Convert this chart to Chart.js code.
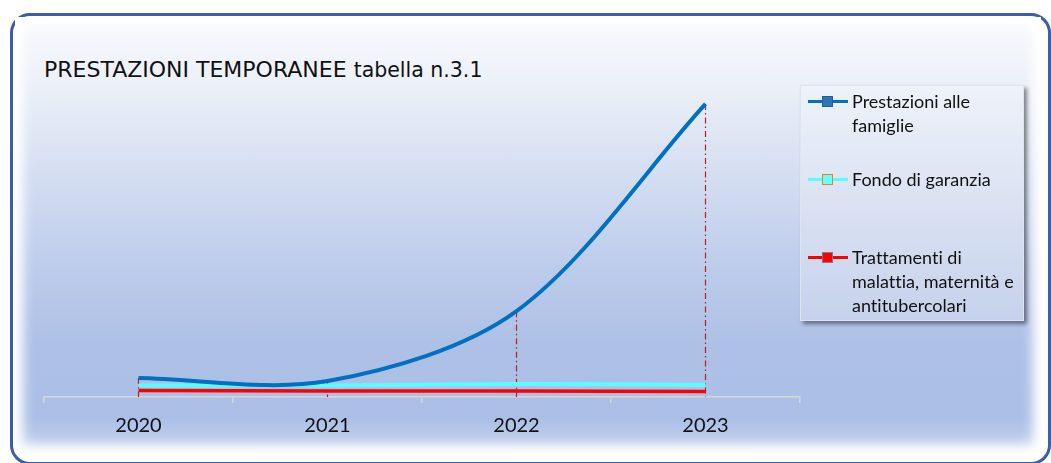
<!DOCTYPE html>
<html lang="it">
<head>
<meta charset="UTF-8">
<title>Prestazioni temporanee</title>
<script src="https://cdn.jsdelivr.net/npm/chart.js"></script>
<style>
    body { margin: 0; background: #fff; width: 1051px; height: 463px; overflow: hidden; position: relative; }
    #cornice {
        position: absolute; left: 10px; top: 13px; width: 1041px; height: 452px;
        box-sizing: border-box; border: 3px solid #3a5ea8; border-radius: 20px;
    }
    #sfondo {
        position: absolute; left: 15px; top: 17px; width: 1026px; height: 436px;
        background: linear-gradient(to bottom, #f9fafd 0%, #edf1f8 14%, #d8e1f2 33%, #c0ceec 55%, #aec0e6 75%, #abbfe6 92%, #c9d5ef 100%);
        box-shadow: inset 0 0 12px 8px #fff;
    }
    #titolo {
        position: absolute; left: 44px; top: 58px; font-family: "DejaVu Sans", Verdana, sans-serif;
        font-size: 22px; line-height: 24px; color: #111; white-space: nowrap;
    }
    #titolo span { font-size: 20.5px; }
    #legenda {
        position: absolute; left: 800px; top: 85px; width: 224px; height: 236px; box-sizing: border-box;
        background: linear-gradient(to bottom, #eef2f9, #c6d2ec);
        border: 1px solid #dfe5f0; box-shadow: 3px 3px 4px rgba(0,0,0,0.45);
        font-family: Lato, "Open Sans", sans-serif; font-size: 18px; color: #111;
        font-variant-ligatures: none; font-feature-settings: "liga" 0;
    }
    .voce { position: absolute; left: 0; width: 222px; }
    .voce .campione { position: absolute; left: 7px; top: 11px; width: 40px; height: 3px; }
    .voce .marca { position: absolute; left: 14px; top: -4px; width: 11px; height: 11px; box-sizing: border-box; border: 1px solid; }
    .voce .testo { position: absolute; left: 51px; top: 0; width: 172px; line-height: 24.2px; }
    #grafico { position: absolute; left: 0; top: 0; }
</style>
</head>
<body>
<div id="cornice"></div>
<div id="sfondo"></div>
<div id="titolo">PRESTAZIONI TEMPORANEE <span>tabella n.3.1</span></div>
<canvas id="grafico" width="1051" height="463"></canvas>
<div id="legenda"></div>

<script>
// dati
const anni = ['2020', '2021', '2022', '2023'];
const prestazioniFamiglie = [1915, 1610, 8670, 29590];
const fondoGaranzia = [1160, 1160, 1310, 1210];
const trattamentiMalattia = [655, 605, 605, 555];
const etichette = ['Prestazioni alle famiglie', 'Fondo di garanzia', 'Trattamenti di malattia, maternità e antitubercolari'];
const scalaMax = 31000;

// linee verticali tratto-punto dai punti della prima serie all'asse
const lineeGuida = {
    id: 'lineeGuida',
    beforeDatasetsDraw(chart) {
        const ctx = chart.ctx;
        const meta = chart.getDatasetMeta(0);
        const base = chart.chartArea.bottom;
        ctx.save();
        ctx.strokeStyle = '#b3202a';
        ctx.lineWidth = 1.2;
        ctx.setLineDash([6, 3, 1.5, 3]);
        meta.data.forEach(p => {
            ctx.beginPath();
            ctx.moveTo(p.x, p.y);
            ctx.lineTo(p.x, base);
            ctx.stroke();
        });
        ctx.restore();
    }
};

const serie = [
    { label: etichette[0], data: prestazioniFamiglie, borderColor: '#0070c0', borderWidth: 4, marca: '#2e75b6', bordoMarca: '#1f5f9e' },
    { label: etichette[1], data: fondoGaranzia, borderColor: '#55ffff', borderWidth: 4, marca: '#66ffff', bordoMarca: '#ed7d31' },
    { label: etichette[2], data: trattamentiMalattia, borderColor: '#ff0000', borderWidth: 3.5, marca: '#ff0000', bordoMarca: '#7f7f7f' }
];

new Chart(document.getElementById('grafico').getContext('2d'), {
    type: 'line',
    data: {
        labels: anni,
        datasets: serie.map(s => ({
            label: s.label,
            data: s.data,
            borderColor: s.borderColor,
            borderWidth: s.borderWidth,
            tension: 0.32,
            pointRadius: 0,
            pointHoverRadius: 0,
            fill: false
        }))
    },
    options: {
        responsive: false,
        animation: false,
        layout: { padding: { left: 44, right: 251, top: 90, bottom: 14 } },
        scales: {
            x: {
                offset: true,
                grid: { offset: true, drawOnChartArea: false, drawTicks: true, tickLength: 6, color: '#d6d6d6', lineWidth: 1.5 },
                border: { color: '#d6d6d6', width: 1.5 },
                ticks: { color: '#111', padding: 11, font: { family: 'Lato', size: 20 } }
            },
            y: { display: false, min: 0, max: scalaMax }
        },
        plugins: { legend: { display: false }, tooltip: { enabled: false } },
        events: []
    },
    plugins: [lineeGuida]
});

// legenda HTML
const legenda = document.getElementById('legenda');
const posizioni = [3, 81, 159];
serie.forEach((s, i) => {
    const voce = document.createElement('div');
    voce.className = 'voce';
    voce.style.top = posizioni[i] + 'px';
    const campione = document.createElement('div');
    campione.className = 'campione';
    campione.style.background = s.borderColor;
    const marca = document.createElement('div');
    marca.className = 'marca';
    marca.style.background = s.marca;
    marca.style.borderColor = s.bordoMarca;
    campione.appendChild(marca);
    const testo = document.createElement('div');
    testo.className = 'testo';
    testo.textContent = s.label;
    voce.appendChild(campione);
    voce.appendChild(testo);
    legenda.appendChild(voce);
});
</script>
</body>
</html>
